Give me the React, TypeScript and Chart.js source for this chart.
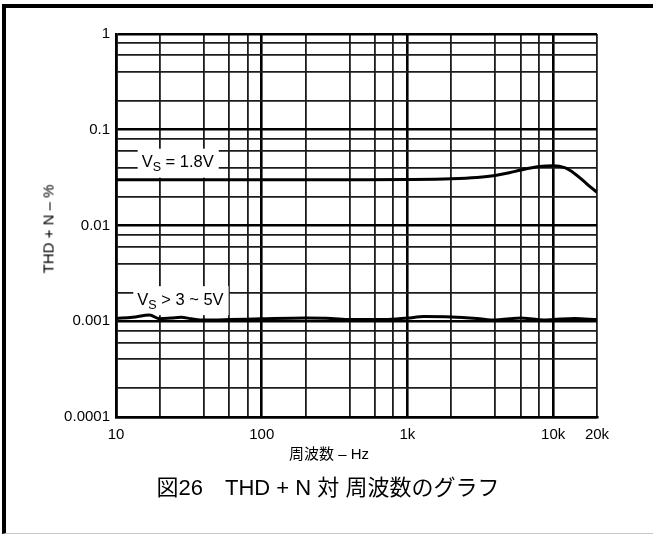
import { useEffect, useRef } from 'react';
import { Chart, registerables } from 'chart.js';

Chart.register(...registerables);

const FONT = '"Liberation Sans", Arial, "Noto Sans CJK JP", sans-serif';

// V_S = 1.8V curve
const freq18 = [10, 20, 50, 100, 200, 500, 1000, 2000, 3000, 4000, 5000, 6000, 8000, 10000, 12000, 14000, 16000, 18000, 20000];
const thd18 = [0.03, 0.03, 0.03, 0.03, 0.03, 0.03, 0.0302, 0.0308, 0.0318, 0.0333, 0.0355, 0.038, 0.0413, 0.0422, 0.0402, 0.0350, 0.0296, 0.0253, 0.0222];

// V_S > 3 ~ 5V curve
const freq35 = [10, 13, 17, 20, 24, 28, 33, 40, 60, 100, 200, 300, 400, 700, 1000, 1300, 2000, 3000, 4000, 5000, 6000, 7000, 8500, 10000, 14000, 20000];
const thd35 = [0.00107, 0.0011, 0.00116, 0.00106, 0.00108, 0.0011, 0.00106, 0.00103, 0.00104, 0.00106, 0.00108, 0.00107, 0.00104, 0.00104, 0.00108, 0.00112, 0.00111, 0.00107, 0.00103, 0.00106, 0.00108, 0.00106, 0.00103, 0.00104, 0.00107, 0.00104];

// grid lines (2, 4, 6, 8 per decade)
const xGridValues = [10, 20, 40, 60, 80, 100, 200, 400, 600, 800, 1000, 2000, 4000, 6000, 8000, 10000, 20000];
const yGridValues = [0.0001, 0.0002, 0.0004, 0.0006, 0.0008, 0.001, 0.002, 0.004, 0.006, 0.008, 0.01, 0.02, 0.04, 0.06, 0.08, 0.1, 0.2, 0.4, 0.6, 0.8, 1];

// labelled ticks
const xLabelValues = [10, 100, 1000, 10000, 20000];
const xLabelTexts = ['10', '100', '1k', '10k', '20k'];
const yLabelValues = [0.0001, 0.001, 0.01, 0.1, 1];
const yLabelTexts = ['0.0001', '0.001', '0.01', '0.1', '1'];

// curve captions: V + subscript S + rest
const curveNames = ['1.8V', '3~5V'];
const captionRest = [' = 1.8V', ' > 3 ~ 5V'];
const captionFreq = [15, 14];
const captionTHD = [0.0453, 0.00166];

const near = (a: number, b: number) => Math.abs(a - b) <= Math.abs(b) * 1e-6;
const isDecade = (v: number) => Math.abs(Math.log10(v) - Math.round(Math.log10(v))) < 1e-6;
const labelFor = (v: number, values: number[], texts: string[]) => {
  const i = values.findIndex((w) => near(v, w));
  return i >= 0 ? texts[i] : '';
};

const captionPlugin = {
  id: 'curveCaptions',
  beforeDatasetsDraw(chart: any) {
    const { ctx, scales } = chart;
    const xs = scales.x;
    const ys = scales.y;
    ctx.save();
    captionRest.forEach((rest, i) => {
      const left = xs.getPixelForValue(captionFreq[i]);
      const cy = ys.getPixelForValue(captionTHD[i]);
      ctx.font = `16.5px ${FONT}`;
      const wV = ctx.measureText('V').width;
      const wRest = ctx.measureText(rest).width;
      ctx.font = `12.5px ${FONT}`;
      const wS = ctx.measureText('S').width;
      const total = wV + wS + wRest;
      ctx.fillStyle = '#fff';
      ctx.fillRect(left - 4, cy - 14, total + 9, 29);
      ctx.fillStyle = '#000';
      ctx.textBaseline = 'middle';
      ctx.textAlign = 'left';
      ctx.font = `16.5px ${FONT}`;
      ctx.fillText('V', left, cy);
      ctx.font = `12.5px ${FONT}`;
      ctx.fillText('S', left + wV, cy + 5);
      ctx.font = `16.5px ${FONT}`;
      ctx.fillText(rest, left + wV + wS, cy);
    });
    ctx.restore();
  },
};

export default function App() {
  const canvasRef = useRef<HTMLCanvasElement | null>(null);

  useEffect(() => {
    const canvas = canvasRef.current;
    if (!canvas) return;
    const gridColor = (c: any) => (c.tick && isDecade(c.tick.value) ? '#000' : '#1c1c1c');
    const gridWidth = (c: any) => (c.tick && isDecade(c.tick.value) ? 2.6 : 1.8);
    const chart = new Chart(canvas, {
      type: 'line',
      data: {
        datasets: [
          {
            label: curveNames[0],
            data: freq18.map((f, i) => ({ x: f, y: thd18[i] })),
            borderColor: '#000',
            borderWidth: 3,
            pointRadius: 0,
            cubicInterpolationMode: 'monotone',
            fill: false,
          },
          {
            label: curveNames[1],
            data: freq35.map((f, i) => ({ x: f, y: thd35[i] })),
            borderColor: '#000',
            borderWidth: 3,
            pointRadius: 0,
            cubicInterpolationMode: 'monotone',
            fill: false,
          },
        ],
      },
      options: {
        responsive: false,
        animation: false,
        devicePixelRatio: 1,
        layout: { padding: { left: 0, top: 34, right: 56, bottom: 0 } },
        plugins: { legend: { display: false }, tooltip: { enabled: false } },
        scales: {
          x: {
            type: 'logarithmic',
            min: 10,
            max: 20000,
            afterBuildTicks: (s: any) => {
              s.ticks = xGridValues.map((v) => ({ value: v }));
            },
            afterFit: (s: any) => {
              s.height = 118;
            },
            grid: { color: gridColor, lineWidth: gridWidth, drawTicks: false },
            border: { display: true, color: '#000', width: 2.6 },
            ticks: {
              autoSkip: false,
              maxRotation: 0,
              padding: 9,
              color: '#000',
              font: { family: FONT, size: 15 },
              callback: (v: any) => labelFor(Number(v), xLabelValues, xLabelTexts),
            },
          },
          y: {
            type: 'logarithmic',
            min: 0.0001,
            max: 1,
            afterBuildTicks: (s: any) => {
              s.ticks = yGridValues.map((v) => ({ value: v }));
            },
            afterFit: (s: any) => {
              s.width = 116;
            },
            grid: { color: gridColor, lineWidth: gridWidth, drawTicks: false },
            border: { display: true, color: '#000', width: 2.6 },
            ticks: {
              autoSkip: false,
              padding: 6,
              color: '#000',
              font: { family: FONT, size: 15 },
              callback: (v: any) => labelFor(Number(v), yLabelValues, yLabelTexts),
            },
          },
        },
      },
      plugins: [captionPlugin],
    } as any);
    return () => chart.destroy();
  }, []);

  return (
    <div style={{ position: 'fixed', left: 0, top: 0, width: 653, height: 535, background: '#fff', overflow: 'hidden', fontFamily: FONT }}>
      <div
        style={{
          position: 'absolute',
          left: 2,
          top: 4,
          width: 651,
          height: 530,
          boxSizing: 'border-box',
          borderLeft: '4px solid #000',
          borderTop: '4px solid #000',
          borderBottom: '1px solid #c8c8c8',
        }}
      />
      <canvas ref={canvasRef} width={653} height={535} style={{ position: 'absolute', left: 0, top: 0 }} />
      <div
        style={{
          position: 'absolute',
          left: 48,
          top: 229,
          transform: 'translate(-50%, -50%) rotate(-90deg)',
          whiteSpace: 'nowrap',
          fontSize: 15,
          lineHeight: '15px',
          color: '#000',
        }}
      >
        THD + N – %
      </div>
      <div
        style={{
          position: 'absolute',
          left: 0,
          width: 658,
          top: 445,
          textAlign: 'center',
          fontSize: 15,
          lineHeight: '17px',
          color: '#000',
        }}
      >
        周波数 – Hz
      </div>
      <div
        style={{
          position: 'absolute',
          left: 0,
          width: 656,
          top: 476,
          textAlign: 'center',
          fontSize: 22,
          lineHeight: '24px',
          color: '#000',
          whiteSpace: 'pre',
        }}
      >
        図26　THD + N 対 周波数のグラフ
      </div>
    </div>
  );
}
